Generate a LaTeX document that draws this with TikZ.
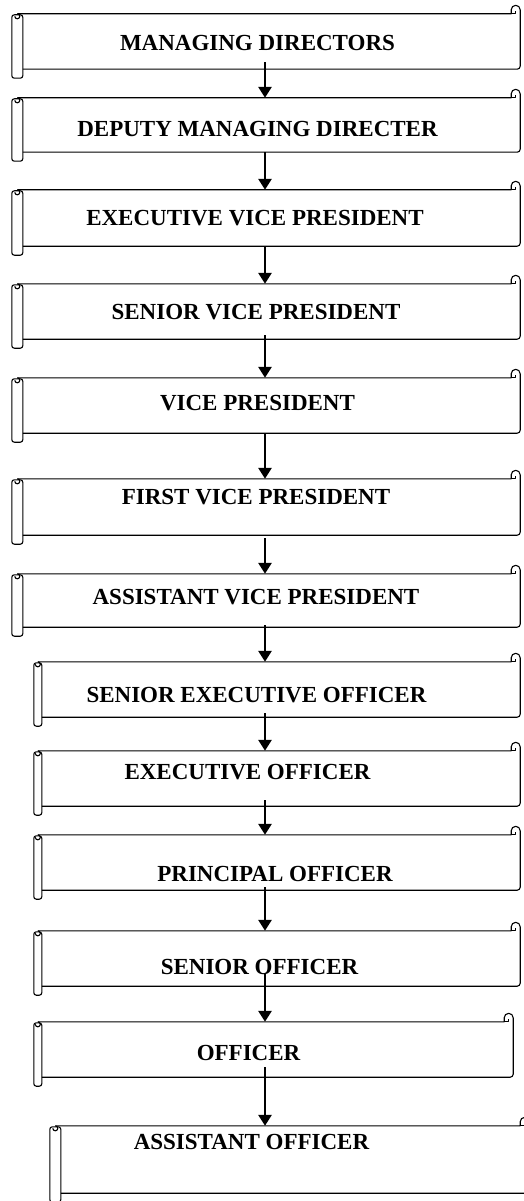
\documentclass[tikz,border=0pt]{standalone}
\usepackage{fontspec}
\setmainfont{Liberation Serif}
\usetikzlibrary{arrows.meta,calc}

\tikzset{
  scroll/.style={minimum width=497pt, minimum height=55pt, inner sep=0pt},
  scrollin/.style={scroll, minimum width=478pt},
  lbl/.style={font=\fontsize{23}{23}\selectfont\bfseries, inner sep=0pt},
  frame/.style={line width=1.1pt, line join=round},
  flow/.style={line width=2.8pt, -{Triangle[width=13pt,length=11pt]}},
}

% left roll, curls and outline round one scroll node
\newcommand{\scrollframe}[2][11pt]{%
  \draw[frame, fill=white, rounded corners=2.5pt] ($(#2.north west)+(-#1,-1pt)$) rectangle ($(#2.south west)+(0,-9pt)$);
  \draw[frame] ($(#2.north west)+(-#1/2,0)$) -- ($(#2.north east)+(-9pt,0)$)
    -- ++(0,4pt) arc[start angle=180, end angle=0, radius=4.5pt]
    -- ($(#2.south east)+(0,3pt)$) arc[start angle=0, end angle=-90, radius=3pt]
    -- (#2.south west);
  \draw[frame] ($(#2.north east)+(-9pt,0)$) -- ++(4.5pt,0) -- ++(0,3pt);
  \draw[frame] ($(#2.north west)+(-#1/2,0)$) arc[start angle=90, end angle=-180, radius=2.5pt];
}

\begin{document}
\begin{tikzpicture}[x=1pt, y=1pt]
  \useasboundingbox (0,0) rectangle (523,-1201);
  \coordinate (spine) at (265,0);

  \node[scroll, label={[lbl, shift={(-14pt,-1.5pt)}]center:MANAGING DIRECTORS}] (md) at (271.5,-41.5) {};
  \node[scroll, minimum height=54pt, label={[lbl, shift={(-14pt,-4pt)}]center:DEPUTY MANAGING DIRECTER}] (dmd) at (271.5,-125) {};
  \node[scroll, minimum height=56pt, label={[lbl, shift={(-16.5pt,0pt)}]center:EXECUTIVE VICE PRESIDENT}] (evp) at (271.5,-218) {};
  \node[scroll, label={[lbl, shift={(-15.5pt,-0.5pt)}]center:SENIOR VICE PRESIDENT}] (svp) at (271.5,-311.5) {};
  \node[scroll, label={[lbl, shift={(-14pt,2.5pt)}]center:VICE PRESIDENT}] (vp) at (271.5,-405.5) {};
  \node[scroll, minimum height=56pt, label={[lbl, shift={(-15.5pt,10pt)}]center:FIRST VICE PRESIDENT}] (fvp) at (271.5,-507) {};
  \node[scroll, minimum height=53pt, label={[lbl, shift={(-15.5pt,3.5pt)}]center:ASSISTANT VICE PRESIDENT}] (avp) at (271.5,-600.5) {};
  \node[scrollin, label={[lbl, shift={(-24.5pt,-5.5pt)}]center:SENIOR EXECUTIVE OFFICER}] (seo) at (281,-689.5) {};
  \node[scrollin, label={[lbl, shift={(-33.5pt,6.5pt)}]center:EXECUTIVE OFFICER}] (eo) at (281,-778.5) {};
  \node[scrollin, label={[lbl, shift={(-6pt,-11.5pt)}]center:PRINCIPAL OFFICER}] (po) at (281,-862.5) {};
  \node[scrollin, label={[lbl, shift={(-21.5pt,-8.5pt)}]center:SENIOR OFFICER}] (so) at (281,-958.5) {};
  \node[scrollin, minimum width=471pt, label={[lbl, shift={(-29pt,-3.5pt)}]center:OFFICER}] (o) at (277.5,-1049.5) {};
  \node[scroll, minimum width=468pt, minimum height=67pt, label={[lbl, shift={(-43.5pt,17.5pt)}]center:ASSISTANT OFFICER}] (ao) at (295,-1159.5) {};

  \scrollframe{md} \scrollframe{dmd} \scrollframe{evp} \scrollframe{svp}
  \scrollframe{vp} \scrollframe{fvp} \scrollframe{avp}
  \scrollframe[8pt]{seo} \scrollframe[8pt]{eo} \scrollframe[8pt]{po}
  \scrollframe[8pt]{so} \scrollframe[8pt]{o} \scrollframe{ao}

  \draw[flow, shorten <=-7pt] (md.south -| spine) -- (dmd.north -| spine);
  \draw[flow] (dmd.south -| spine) -- (evp.north -| spine);
  \draw[flow] (evp.south -| spine) -- (svp.north -| spine);
  \draw[flow, shorten <=-4pt] (svp.south -| spine) -- (vp.north -| spine);
  \draw[flow] (vp.south -| spine) -- (fvp.north -| spine);
  \draw[flow, shorten <=3pt] (fvp.south -| spine) -- (avp.north -| spine);
  \draw[flow, shorten <=-2pt] (avp.south -| spine) -- (seo.north -| spine);
  \draw[flow, shorten <=-4pt] (seo.south -| spine) -- (eo.north -| spine);
  \draw[flow, shorten <=-6pt] (eo.south -| spine) -- (po.north -| spine);
  \draw[flow, shorten <=-3pt] (po.south -| spine) -- (so.north -| spine);
  \draw[flow, shorten <=-13pt] (so.south -| spine) -- (o.north -| spine);
  \draw[flow, shorten <=-10pt] (o.south -| spine) -- (ao.north -| spine);
\end{tikzpicture}
\end{document}
